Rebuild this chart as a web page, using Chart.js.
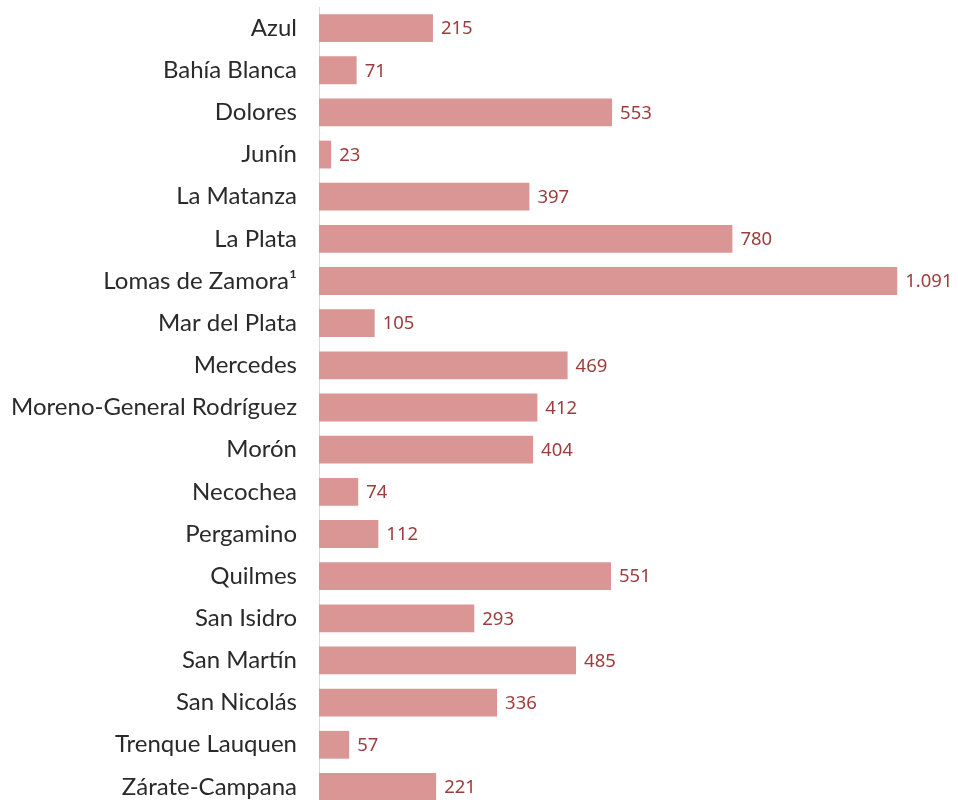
<!DOCTYPE html>
<html>
<head>
<meta charset="utf-8">
<script src="https://cdn.jsdelivr.net/npm/chart.js@4"></script>
<style>
  html, body { margin: 0; padding: 0; background: #fff; overflow: hidden; }
  canvas { display: block; }
</style>
</head>
<body>
<canvas id="chart" width="958" height="808"></canvas>
<script>
const departamentos = [
  'Azul', 'Bahía Blanca', 'Dolores', 'Junín', 'La Matanza', 'La Plata',
  'Lomas de Zamora¹', 'Mar del Plata', 'Mercedes', 'Moreno-General Rodríguez',
  'Morón', 'Necochea', 'Pergamino', 'Quilmes', 'San Isidro', 'San Martín',
  'San Nicolás', 'Trenque Lauquen', 'Zárate-Campana',
];
const causas = [215, 71, 553, 23, 397, 780, 1091, 105, 469, 412, 404, 74, 112, 551, 293, 485, 336, 57, 221];

const BAR = '#d99694';
const LABEL = '#9d3c3c';

function fmtNum(value) {
  return String(value).replace(/\B(?=(\d{3})+(?!\d))/g, '.');
}

// value labels at the end of each bar
const endLabels = {
  id: 'endLabels',
  afterDatasetsDraw(chart) {
    const { ctx } = chart;
    const meta = chart.getDatasetMeta(0);
    ctx.save();
    ctx.font = '18.5px "Noto Sans"';
    ctx.fillStyle = LABEL;
    ctx.textAlign = 'left';
    ctx.textBaseline = 'middle';
    meta.data.forEach((bar, i) => {
      ctx.fillText(fmtNum(causas[i]), bar.x + 8, bar.y + 1);
    });
    ctx.restore();
  },
};

new Chart(document.getElementById('chart'), {
  type: 'bar',
  data: {
    labels: departamentos,
    datasets: [{
      data: causas,
      backgroundColor: BAR,
      borderWidth: 0,
      barPercentage: 0.66,
      categoryPercentage: 1,
    }],
  },
  options: {
    indexAxis: 'y',
    responsive: false,
    animation: false,
    layout: { padding: { top: 7, right: 3, bottom: 0, left: 0 } },
    plugins: { legend: { display: false }, tooltip: { enabled: false } },
    scales: {
      x: { display: false, min: 0, max: 1200 },
      y: {
        afterFit(scale) {
          scale.width = 319;
          scale.paddingTop = 0;
          scale.paddingBottom = 0;
        },
        grid: { display: false, drawTicks: false },
        border: { display: true, color: '#d9d9d9', width: 1 },
        ticks: { color: '#2a2a2a', padding: 22, font: { family: 'Lato', size: 24 } },
      },
    },
  },
  plugins: [endLabels],
});
</script>
</body>
</html>
